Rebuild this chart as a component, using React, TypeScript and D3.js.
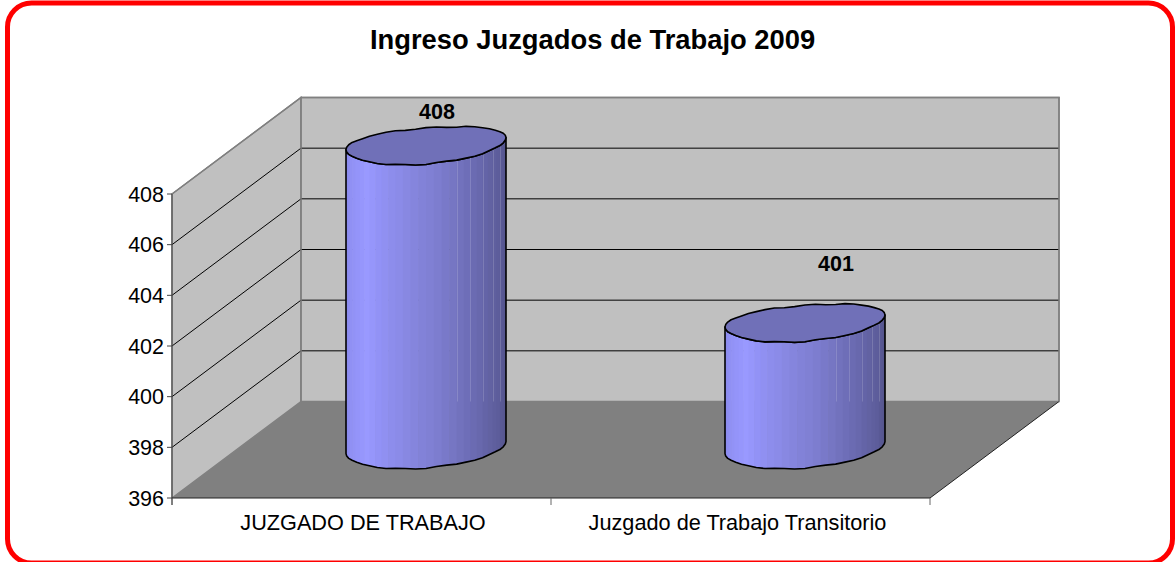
import React from "react";
import * as d3 from "d3";

const title = "Ingreso Juzgados de Trabajo 2009";
const categories = ["JUZGADO DE TRABAJO", "Juzgado de Trabajo Transitorio"];
const values = [408, 401];
const yTicks = [396, 398, 400, 402, 404, 406, 408];
// visible wobble of the tessellated ellipse outline, in px, going round it
const wobble = [0, 0.8, -0.6, 0.9, 0.2, -0.8, 0.7, -0.5, 0.9, 0.1, -0.7, 0.8, -0.4, 0.7, -0.8, 0.3, 0.9, -0.6, 0.5, -0.7, 0.8, 0, -0.8, 0.6];
// shading across the cylinder: position (0..1) -> colour
const shadeStops: [number, string][] = [
  [0, "#8a8aec"], [0.03, "#9090f4"], [0.13, "#9999ff"], [0.2, "#9292f6"], [0.4, "#8787e0"],
  [0.6, "#7b7bcc"], [0.8, "#6b6bb2"], [0.95, "#5d5d9b"], [1, "#54548c"],
];
// facets whose left edge shows a faint light seam
const seamFacets = [20, 22, 24, 26, 28];

const W = 1176, H = 562;
const frontL = 172, frontR = 930, frontB = 498, frontT = 194;
const dx = 129, dy = -96.5;

const y = d3.scaleLinear().domain([396, 408]).range([frontB, frontT]);
const x = d3.scaleBand<string>().domain(categories).range([frontL, frontR]);
const barWidth = 160;
const cyl = (i: number) => x(categories[i])! + x.bandwidth() / 2 + dx / 2;
const depthShift = -48;
const shade = d3.scaleLinear<string>().domain(shadeStops.map((s) => s[0])).range(shadeStops.map((s) => s[1]));
const stripCount = 32;

function ellipsePts(cx: number, cy: number, from = 0, to = 1): [number, number][] {
  const n = wobble.length * 2;
  const pts: [number, number][] = [];
  for (let k = Math.round(from * n); k <= Math.round(to * n); k++) {
    const t = (k / n) * 2 * Math.PI;
    const w = k === 0 || k === n || k === n / 2 ? 0 : wobble[Math.floor(k / 2) % wobble.length];
    const c = Math.cos(t);
    pts.push([
      cx + (barWidth / 2) * c,
      cy - 6 * c - 2.4 * c * c + (18 + w * 0.7) * Math.sin(t),
    ]);
  }
  return pts;
}
const line = d3.line();

function Cylinder({ i }: { i: number }) {
  const cx = cyl(i);
  const topY = y(values[i]) + depthShift;
  const botY = y(396) + depthShift;
  // front half of an ellipse is t in 0..0.5 (sin > 0 = downward)
  const bottomFront = ellipsePts(cx, botY, 0, 0.5).reverse();
  const topFront = ellipsePts(cx, topY, 0, 0.5);
  const bodyPts = [...topFront, ...bottomFront];
  const id = `body${i}`;
  const strips = d3.range(stripCount).map((k) => {
    const a0 = Math.PI - (k / stripCount) * Math.PI;
    const a1 = Math.PI - ((k + 1) / stripCount) * Math.PI;
    const x0 = cx + (barWidth / 2) * Math.cos(a0);
    const x1 = cx + (barWidth / 2) * Math.cos(a1);
    return { x0, x1, c: shade(((x0 + x1) / 2 - (cx - barWidth / 2)) / barWidth) };
  });
  return (
    <g>
      <clipPath id={id}><path d={line(bodyPts)! + "Z"} /></clipPath>
      <g clipPath={`url(#${id})`}>
        {strips.map((s, k) => (
          <rect key={k} x={s.x0} y={topY - 30} width={s.x1 - s.x0 + 0.6} height={botY - topY + 60} fill={s.c} />
        ))}
        {seamFacets.map((k) => (
          <line key={k} x1={Math.round(strips[k].x0) + 0.5} x2={Math.round(strips[k].x0) + 0.5} y1={topY} y2={y(396) + dy} stroke="#ffffff" strokeOpacity={0.16} />
        ))}
      </g>
      <path d={line(bodyPts)! + "Z"} fill="none" stroke="#000" strokeWidth={1.6} strokeLinejoin="round" />
      <path d={line(ellipsePts(cx, topY))! + "Z"} fill="#7070b8" stroke="#000" strokeWidth={1.6} strokeLinejoin="round" />
    </g>
  );
}

export default function App() {
  const font = "'Liberation Sans', Arial, sans-serif";
  const backL = frontL + dx, backR = frontR + dx;
  return (
    <svg width={W} height={H} style={{ position: "absolute", left: 0, top: 0, background: "#fff" }} fontFamily={font}>
      <rect x={7.5} y={3} width={1165} height={560} rx={24} fill="#fff" stroke="#ff0000" strokeWidth={5} />
      <text x={592.5} y={49} textAnchor="middle" fontSize={27.35} fontWeight={700}>{title}</text>

      {/* walls */}
      <path d={`M${frontL},${y(408)}L${backL},${y(408) + dy}V${y(396) + dy}L${frontL},${y(396)}Z`} fill="#c0c0c0" stroke="#808080" strokeWidth={1.5} />
      <rect x={backL} y={y(408) + dy} width={backR - backL} height={y(396) - y(408)} fill="#c0c0c0" stroke="#808080" strokeWidth={1.5} />
      <path d={`M${frontL},${y(396)}L${backL},${y(396) + dy}H${backR}L${frontR},${y(396)}Z`} fill="#808080" />
      <path d={`M${frontR},${y(396)}L${backR},${y(396) + dy}`} stroke="#222" strokeWidth={1} fill="none" />

      {/* gridlines */}
      {yTicks.filter((t) => t > 396 && t < 408).map((t) => (
        <path key={t} d={`M${frontL},${y(t)}L${backL},${y(t) + dy}H${backR}`} fill="none" stroke="#000" strokeWidth={1} />
      ))}
      <path d={`M${frontL},${y(408)}L${backL},${y(408) + dy}H${backR}V${y(396) + dy}`} fill="none" stroke="#808080" strokeWidth={1.5} />
      <line x1={backL} x2={backL} y1={y(408) + dy} y2={y(396) + dy} stroke="#808080" strokeWidth={1.5} />

      {/* axes */}
      <line x1={frontL} x2={frontL} y1={y(408)} y2={y(396) + 7} stroke="#555" strokeWidth={1.2} />
      <line x1={frontL} x2={frontR} y1={y(396)} y2={y(396)} stroke="#222" strokeWidth={1.2} />
      {categories.concat([""]).map((c, i) => {
        const px = frontL + i * x.bandwidth();
        return <line key={i} x1={px} x2={px} y1={y(396)} y2={y(396) + 7} stroke="#666" strokeWidth={1} />;
      })}
      {yTicks.map((t) => (
        <g key={t}>
          <line x1={frontL - 5} x2={frontL} y1={y(t)} y2={y(t)} stroke="#444" strokeWidth={1} />
          <text x={frontL - 8} y={y(t) + 7.5} textAnchor="end" fontSize={21.5}>{t}</text>
        </g>
      ))}
      {categories.map((c, i) => (
        <text key={c} x={[363, 737.5][i]} y={530} textAnchor="middle" fontSize={21.7}>{c}</text>
      ))}

      {values.map((_, i) => <Cylinder key={i} i={i} />)}

      {values.map((v, i) => (
        <text key={i} x={cyl(i) + (i === 0 ? 11 : 31)} y={i === 0 ? 119 : 271} textAnchor="middle" fontSize={21.5} fontWeight={700}>{v}</text>
      ))}
    </svg>
  );
}
